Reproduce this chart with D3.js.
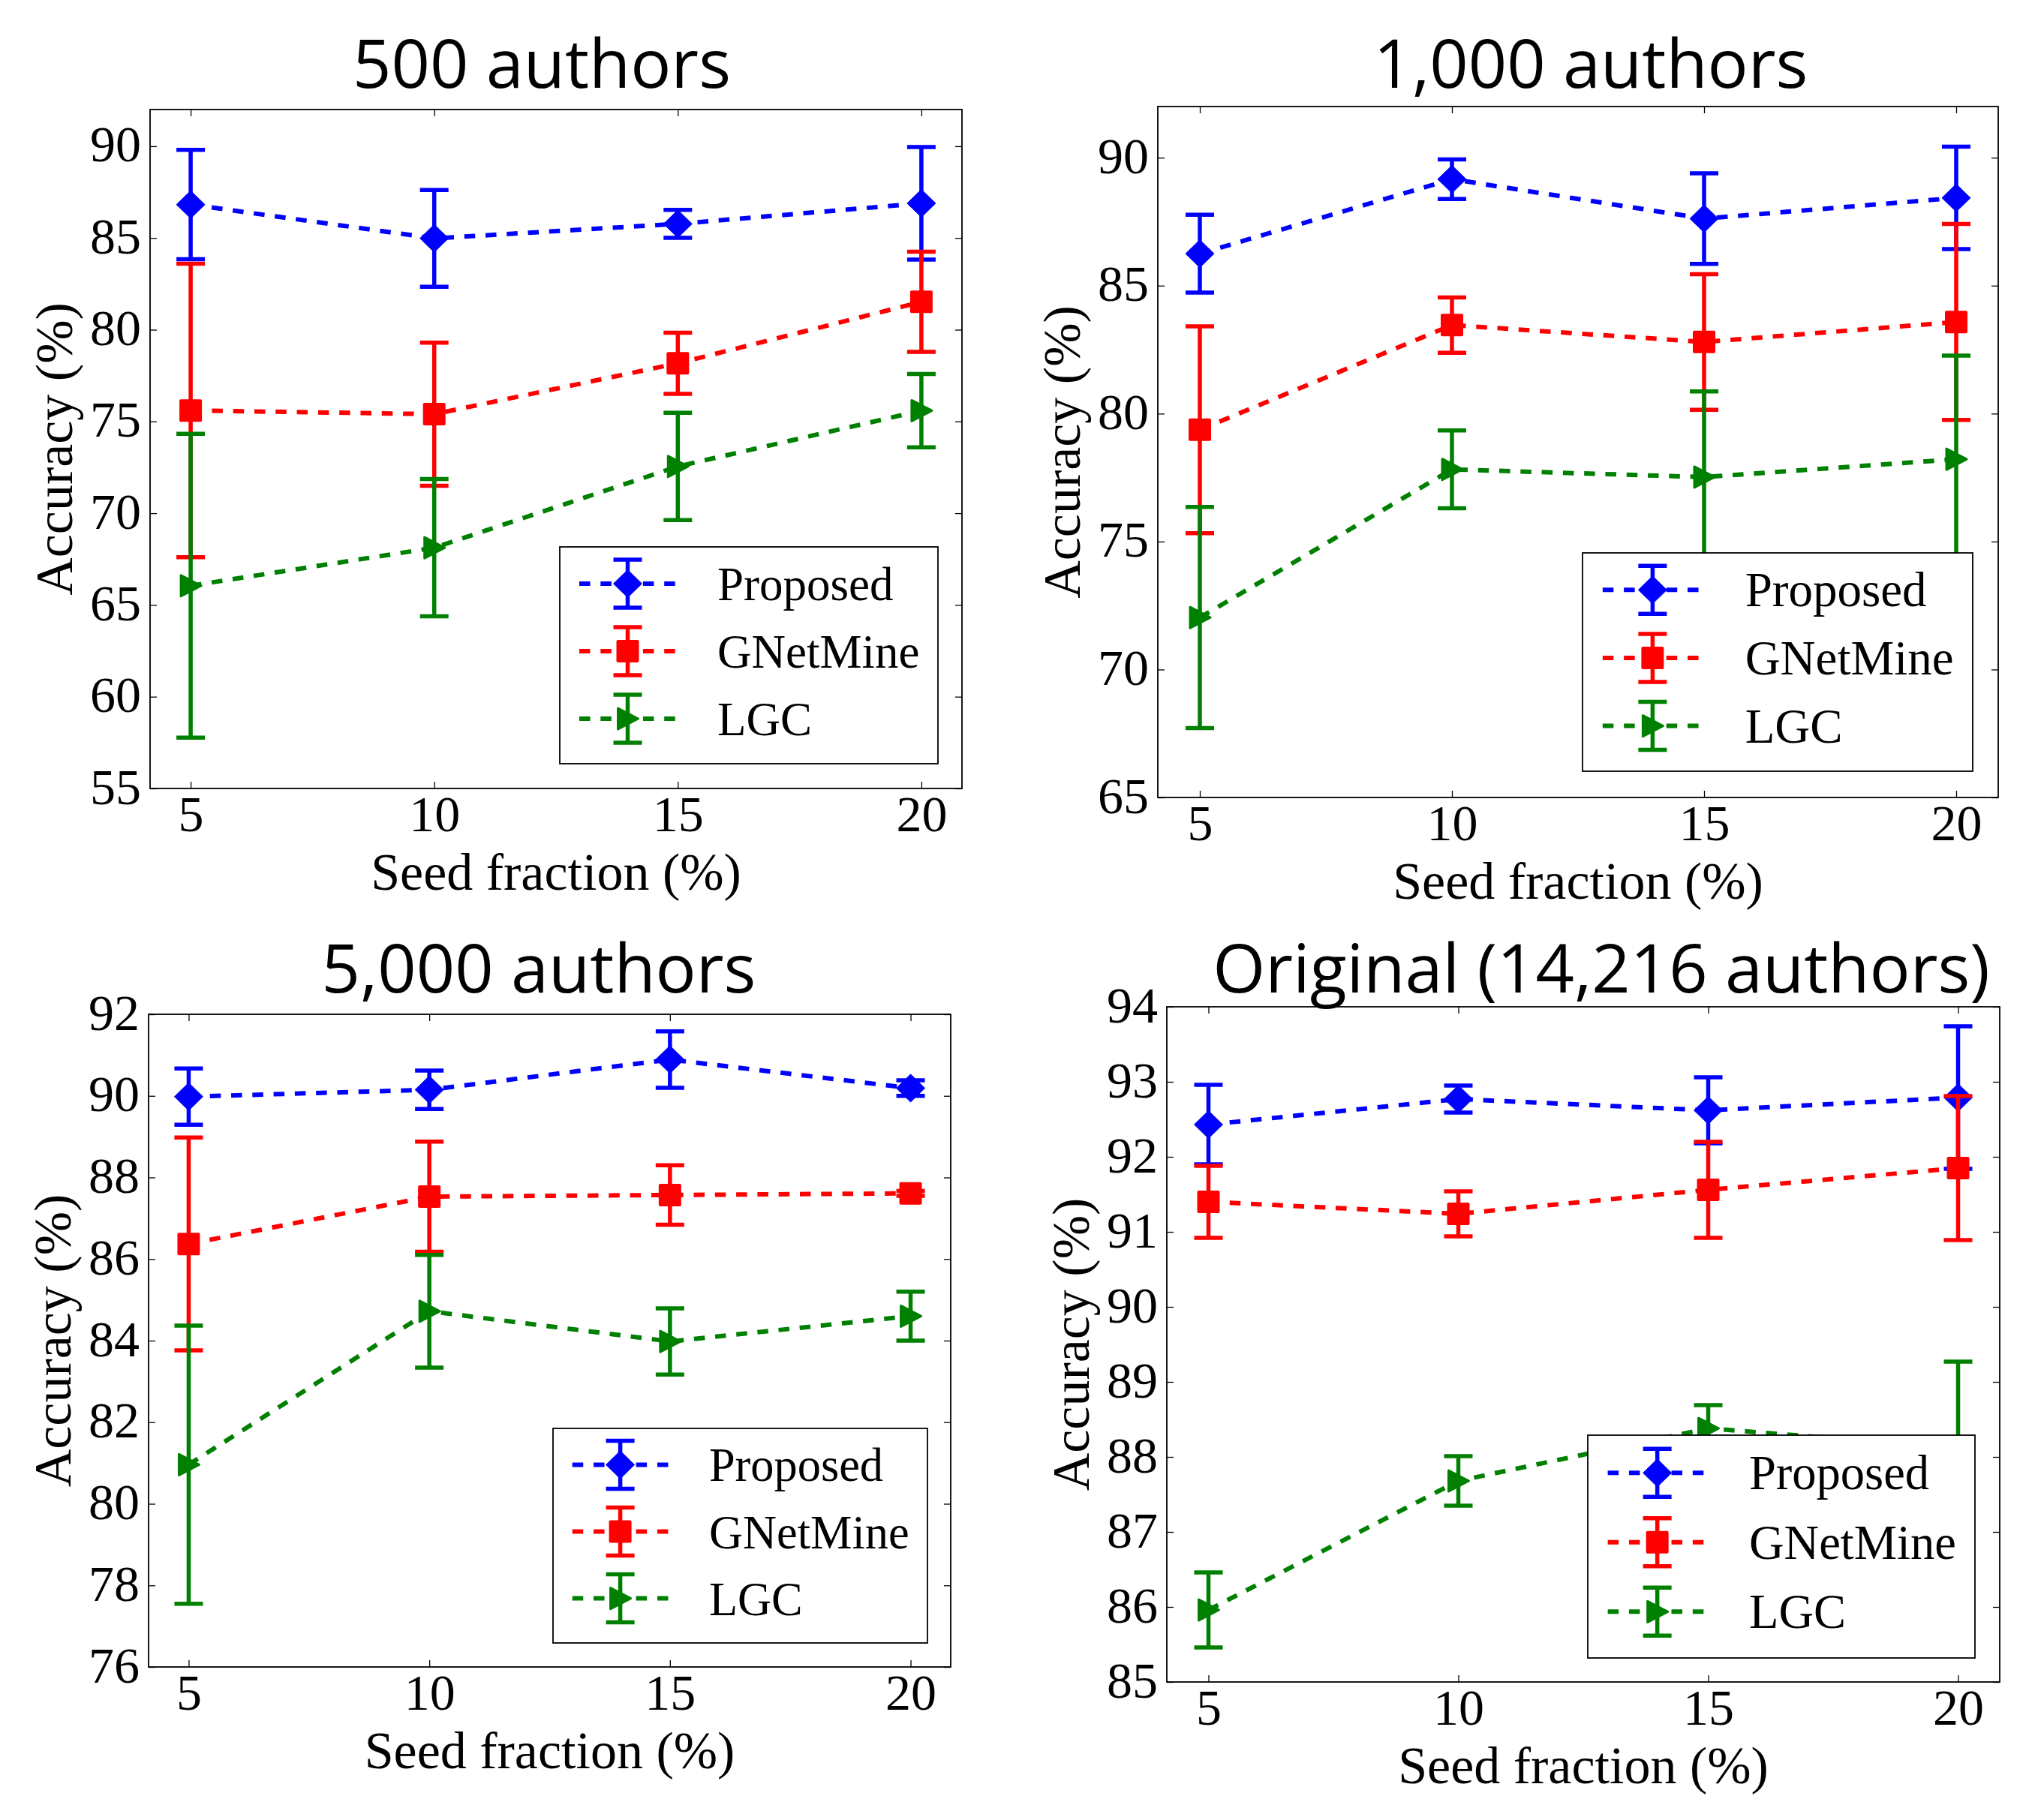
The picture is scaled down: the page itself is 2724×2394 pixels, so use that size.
<!DOCTYPE html>
<html><head><meta charset="utf-8">
<script src="https://cdn.jsdelivr.net/npm/d3@7"></script>
<style>html,body{margin:0;padding:0;background:#fff;} svg{display:block;}</style>
</head><body>
<svg id="chart" width="2724" height="2394"></svg>
<script>
// ---------------- data ----------------
const seedFractions = [5, 10, 15, 20];
const seriesNames = ["Proposed", "GNetMine", "LGC"];
const panelTitles = ["500 authors", "1,000 authors", "5,000 authors", "Original (14,216 authors)"];
const xLabel = "Seed fraction (%)";
const yLabel = "Accuracy (%)";

const yTicks500 = [55, 60, 65, 70, 75, 80, 85, 90];
const yTicks1000 = [65, 70, 75, 80, 85, 90];
const yTicks5000 = [76, 78, 80, 82, 84, 86, 88, 90, 92];
const yTicksOrig = [85, 86, 87, 88, 89, 90, 91, 92, 93, 94];
const yDomain500 = [55, 92];
const yDomain1000 = [65, 92];
const yDomain5000 = [76, 92];
const yDomainOrig = [85, 94];
const xDomain = [4.1667, 20.8333];

// 500 authors
const acc500Proposed = [86.82, 84.98, 85.77, 86.89];
const err500Proposed = [2.98, 2.64, 0.76, 3.07];
const acc500GNetMine = [75.60, 75.40, 78.17, 81.52];
const err500GNetMine = [8.00, 3.90, 1.67, 2.73];
const acc500LGC = [66.05, 68.12, 72.55, 75.59];
const err500LGC = [8.28, 3.74, 2.92, 2.00];
// 1,000 authors
const acc1000Proposed = [86.25, 89.16, 87.62, 88.43];
const err1000Proposed = [1.52, 0.77, 1.77, 2.00];
const acc1000GNetMine = [79.37, 83.46, 82.80, 83.58];
const err1000GNetMine = [4.04, 1.08, 2.65, 3.83];
const acc1000LGC = [72.03, 77.82, 77.52, 78.22];
const err1000LGC = [4.32, 1.52, 3.35, 4.05];
// 5,000 authors
const acc5000Proposed = [89.98, 90.15, 90.89, 90.19];
const err5000Proposed = [0.69, 0.47, 0.69, 0.19];
const acc5000GNetMine = [86.37, 87.53, 87.57, 87.61];
const err5000GNetMine = [2.61, 1.35, 0.73, 0.06];
const acc5000LGC = [80.96, 84.72, 83.98, 84.60];
const err5000LGC = [3.41, 1.38, 0.81, 0.60];
// Original (14,216 authors)
const accOrigProposed = [92.43, 92.77, 92.62, 92.79];
const errOrigProposed = [0.53, 0.18, 0.44, 0.95];
const accOrigGNetMine = [91.40, 91.24, 91.56, 91.85];
const errOrigGNetMine = [0.48, 0.30, 0.64, 0.96];
const accOrigLGC = [85.96, 87.68, 88.38, 88.12];
const errOrigLGC = [0.50, 0.33, 0.31, 1.15];

// ---------------- styling / layout ----------------
const colors = ["#0000ff", "#ff0000", "#008000"];
const serif = "'Liberation Serif', 'Times New Roman', serif";
const sans = "'Open Sans', 'Noto Sans', sans-serif";
const DASH = "14.5,13.8";
const LW = 6;

const panels = [
  {title: panelTitles[0], yTicks: yTicks500, yDomain: yDomain500,
   acc: [acc500Proposed, acc500GNetMine, acc500LGC], err: [err500Proposed, err500GNetMine, err500LGC]},
  {title: panelTitles[1], yTicks: yTicks1000, yDomain: yDomain1000,
   acc: [acc1000Proposed, acc1000GNetMine, acc1000LGC], err: [err1000Proposed, err1000GNetMine, err1000LGC]},
  {title: panelTitles[2], yTicks: yTicks5000, yDomain: yDomain5000,
   acc: [acc5000Proposed, acc5000GNetMine, acc5000LGC], err: [err5000Proposed, err5000GNetMine, err5000LGC]},
  {title: panelTitles[3], yTicks: yTicksOrig, yDomain: yDomainOrig,
   acc: [accOrigProposed, accOrigGNetMine, accOrigLGC], err: [errOrigProposed, errOrigGNetMine, errOrigLGC]}
];
const layout = [
  {left: 200, right: 1282, top: 146, bottom: 1051, titleX: 722, titleY: 117, lgR: 32, lgB: 33, lgW: 504, lgH: 289},
  {left: 1543, right: 2663, top: 142, bottom: 1063, titleX: 2120, titleY: 117, lgR: 34, lgB: 35, lgW: 520, lgH: 291},
  {left: 198, right: 1267, top: 1352, bottom: 2222, titleX: 718, titleY: 1323, lgR: 31, lgB: 32, lgW: 499, lgH: 286},
  {left: 1555, right: 2665, top: 1342, bottom: 2242, titleX: 2134, titleY: 1323, lgR: 33, lgB: 32, lgW: 516, lgH: 297}
];

const svg = d3.select("#chart");
svg.append("rect").attr("width", 2724).attr("height", 2394).attr("fill", "#fff");

function drawMarker(g, kind, cx, cy, color) {
  if (kind === 0) {
    g.append("path").attr("d", `M${cx},${cy - 18.5}L${cx + 19},${cy}L${cx},${cy + 18.5}L${cx - 19},${cy}Z`)
      .attr("fill", color).attr("stroke", color).attr("stroke-width", 1);
  } else if (kind === 1) {
    g.append("rect").attr("x", cx - 13).attr("y", cy - 13).attr("width", 26).attr("height", 26)
      .attr("fill", color).attr("stroke", color).attr("stroke-width", 4).attr("stroke-linejoin", "round");
  } else {
    g.append("path").attr("d", `M${cx - 13},${cy - 14}L${cx + 14},${cy}L${cx - 13},${cy + 14}Z`)
      .attr("fill", color).attr("stroke", color).attr("stroke-width", 3).attr("stroke-linejoin", "round");
  }
}

function drawErrorBar(g, cx, yTop, yBot, color) {
  g.append("line").attr("x1", cx).attr("x2", cx).attr("y1", yTop).attr("y2", yBot)
    .attr("stroke", color).attr("stroke-width", 5.5);
  [yTop, yBot].forEach(yy => {
    g.append("line").attr("x1", cx - 19).attr("x2", cx + 19).attr("y1", yy).attr("y2", yy)
      .attr("stroke", color).attr("stroke-width", 5.5);
  });
}

panels.forEach((p, pi) => {
  const L = layout[pi];
  const x = d3.scaleLinear().domain(xDomain).range([L.left, L.right]);
  const y = d3.scaleLinear().domain(p.yDomain).range([L.bottom, L.top]);
  const g = svg.append("g");

  // axes (ticks inward on all four sides)
  const bottomAx = g.append("g").attr("transform", `translate(0,${L.bottom})`)
    .call(d3.axisBottom(x).tickValues(seedFractions).tickSize(-9).tickSizeOuter(0).tickFormat(d3.format("d")));
  bottomAx.selectAll("text").attr("y", 57).attr("dy", null)
    .attr("font-family", serif).attr("font-size", 68).attr("fill", "#000");
  const leftAx = g.append("g").attr("transform", `translate(${L.left},0)`)
    .call(d3.axisLeft(y).tickValues(p.yTicks).tickSize(-9).tickSizeOuter(0).tickFormat(d3.format("d")));
  leftAx.selectAll("text").attr("x", -12).attr("dy", null).attr("y", 20)
    .attr("font-family", serif).attr("font-size", 68).attr("fill", "#000");
  g.append("g").attr("transform", `translate(0,${L.top})`)
    .call(d3.axisTop(x).tickValues(seedFractions).tickSize(-9).tickSizeOuter(0).tickFormat(""));
  g.append("g").attr("transform", `translate(${L.right},0)`)
    .call(d3.axisRight(y).tickValues(p.yTicks).tickSize(-9).tickSizeOuter(0).tickFormat(""));
  g.selectAll(".domain").remove();
  g.selectAll(".tick line").attr("stroke", "#000").attr("stroke-width", 1.3);

  // series
  p.acc.forEach((vals, si) => {
    const col = colors[si];
    const sg = g.append("g");
    vals.forEach((v, i) => {
      const e = p.err[si][i];
      drawErrorBar(sg, x(seedFractions[i]), y(v + e), y(v - e), col);
    });
    const line = d3.line().x((d, i) => x(seedFractions[i])).y(d => y(d));
    sg.append("path").datum(vals).attr("d", line).attr("fill", "none")
      .attr("stroke", col).attr("stroke-width", LW).attr("stroke-dasharray", DASH);
    vals.forEach((v, i) => drawMarker(sg, si, x(seedFractions[i]), y(v), col));
  });

  // frame
  g.append("rect").attr("x", L.left).attr("y", L.top).attr("width", L.right - L.left).attr("height", L.bottom - L.top)
    .attr("fill", "none").attr("stroke", "#000").attr("stroke-width", 1.8);

  // legend
  const lg = g.append("g");
  const lw = L.lgW, lh = L.lgH;
  const lx = L.right - L.lgR - lw;
  const ly = L.bottom - L.lgB - lh;
  const sc = lw / 504;
  lg.append("rect").attr("x", lx).attr("y", ly).attr("width", lw).attr("height", lh)
    .attr("fill", "#fff").attr("stroke", "#000").attr("stroke-width", 1.8);
  const rowOff = [49, 139, 229].map(v => v * lh / 289);
  seriesNames.forEach((n, si) => {
    const col = colors[si];
    const cy = ly + rowOff[si];
    const sx0 = lx + 26 * sc, sx1 = lx + 155 * sc, cx = (sx0 + sx1) / 2;
    lg.append("line").attr("x1", sx0).attr("x2", sx1).attr("y1", cy).attr("y2", cy)
      .attr("stroke", col).attr("stroke-width", LW).attr("stroke-dasharray", DASH);
    drawErrorBar(lg, cx, cy - 32, cy + 32, col);
    drawMarker(lg, si, cx, cy, col);
    lg.append("text").attr("x", lx + 210 * sc).attr("y", cy + 22)
      .attr("font-family", serif).attr("font-size", 63 * sc).attr("fill", "#000").text(n);
  });

  // axis labels
  g.append("text").attr("x", (L.left + L.right) / 2).attr("y", L.bottom + 135)
    .attr("text-anchor", "middle").attr("font-family", serif).attr("font-size", 70).text(xLabel);
  g.append("text").attr("transform", `translate(${L.left - 104},${(L.top + L.bottom) / 2}) rotate(-90)`)
    .attr("text-anchor", "middle").attr("font-family", serif).attr("font-size", 70).text(yLabel);

  // title
  g.append("text").attr("x", L.titleX).attr("y", L.titleY).attr("text-anchor", "middle")
    .attr("font-family", sans).attr("font-size", 90).attr("fill", "#000").text(p.title);
});
</script>
</body></html>
